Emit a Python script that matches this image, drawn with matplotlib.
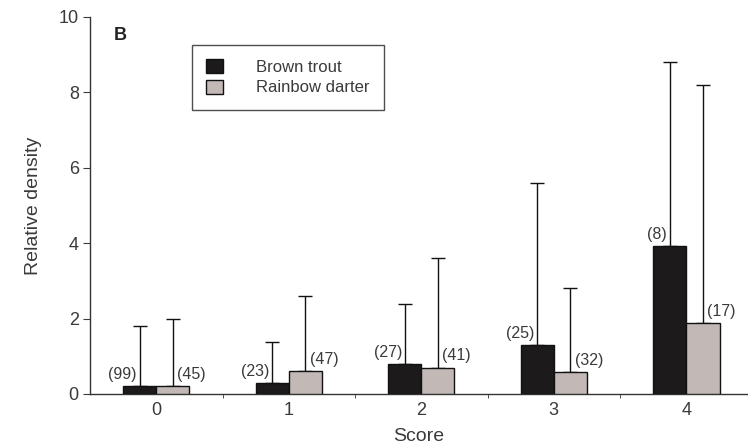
import matplotlib
matplotlib.use("Agg")
import matplotlib.pyplot as plt
import numpy as np
from matplotlib.patches import Patch

plt.rcParams['font.family'] = ['Liberation Sans', 'DejaVu Sans']

scores = ["0", "1", "2", "3", "4"]
trout_mean = [0.2, 0.3, 0.8, 1.3, 3.92]
trout_upper = [1.8, 1.38, 2.4, 5.6, 8.8]
trout_n = ["(99)", "(23)", "(27)", "(25)", "(8)"]
darter_mean = [0.2, 0.6, 0.7, 0.58, 1.88]
darter_upper = [2.0, 2.6, 3.6, 2.8, 8.2]
darter_n = ["(45)", "(47)", "(41)", "(32)", "(17)"]

TXT = '#3a3a3a'

fig = plt.figure(figsize=(7.48, 4.47), dpi=100)
ax = fig.add_axes([0.1203, 0.1186, 0.8797, 0.8434])

x = np.arange(len(scores))
w = 0.25
tc = x - w / 2
dc = x + w / 2
ax.bar(tc, trout_mean, width=w, color='#1c1a1a', edgecolor='#111111', linewidth=1.0, zorder=3)
ax.bar(dc, darter_mean, width=w, color='#c2b9b7', edgecolor='#111111', linewidth=1.0, zorder=3)

t_err = np.array(trout_upper) - np.array(trout_mean)
d_err = np.array(darter_upper) - np.array(darter_mean)
zeros = np.zeros(len(x))
ax.errorbar(tc, trout_mean, yerr=[zeros, t_err], fmt='none', ecolor='#111111',
            elinewidth=1.0, capsize=5, capthick=1.0, zorder=2)
ax.errorbar(dc, darter_mean, yerr=[zeros, d_err], fmt='none', ecolor='#111111',
            elinewidth=1.0, capsize=5, capthick=1.0, zorder=2)

for xi, m, lab in zip(tc, trout_mean, trout_n):
    ax.annotate(lab, (xi, m), xytext=(-2, 3), textcoords='offset points',
                ha='right', va='bottom', fontsize=11.5, color=TXT)
for xi, m, lab in zip(dc, darter_mean, darter_n):
    ax.annotate(lab, (xi, m), xytext=(3, 3), textcoords='offset points',
                ha='left', va='bottom', fontsize=11.5, color=TXT)

ax.set_xlim(-0.5, 4.465)
ax.set_ylim(0, 10)
ax.set_yticks([0, 2, 4, 6, 8, 10])
ax.set_xticks(x)
ax.set_xticklabels(scores)
ax.set_xticks([0.5, 1.5, 2.5, 3.5], minor=True)
ax.tick_params(axis='x', which='major', length=0, labelsize=13, pad=6, colors=TXT)
ax.tick_params(axis='x', which='minor', length=3, direction='out', color='#333333')
ax.tick_params(axis='y', length=5, labelsize=13, pad=3, colors=TXT)
for s in ['top', 'right']:
    ax.spines[s].set_visible(False)
for s in ['left', 'bottom']:
    ax.spines[s].set_color('#333333')
    ax.spines[s].set_linewidth(1.0)

ax.set_xlabel('Score', fontsize=14, labelpad=6, color=TXT)
ax.set_ylabel('Relative density', fontsize=14, labelpad=12, color=TXT)

ax.text(-0.27, 9.5, 'B', fontsize=13, fontweight='bold', ha='center', va='center', color='#222222')

handles = [Patch(facecolor='#1c1a1a', edgecolor='#111111', label='Brown trout'),
           Patch(facecolor='#c2b9b7', edgecolor='#111111', label='Rainbow darter')]
leg = ax.legend(handles=handles, loc='upper left', bbox_to_anchor=(0.155, 0.926),
                frameon=True, fancybox=False, edgecolor='#222222', fontsize=12,
                handlelength=1.0, handleheight=0.9, handletextpad=2.0,
                borderpad=0.85, labelspacing=0.3, borderaxespad=0)
leg.get_frame().set_linewidth(1.0)
for t in leg.get_texts():
    t.set_color(TXT)

fig.savefig('out.png', dpi=100)
